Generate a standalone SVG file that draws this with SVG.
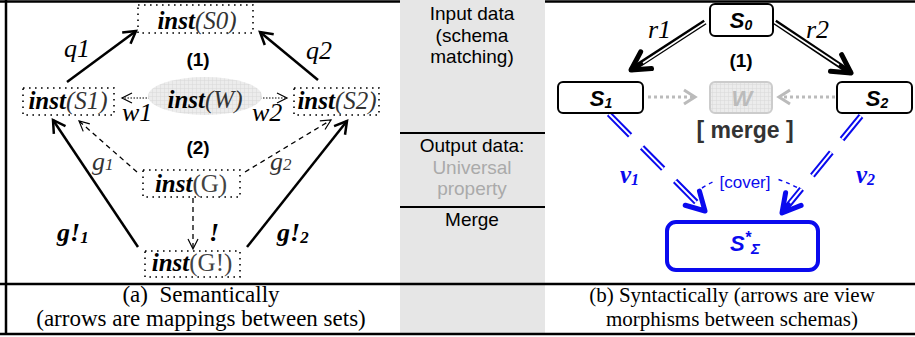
<svg xmlns="http://www.w3.org/2000/svg" width="915" height="337" viewBox="0 0 915 337">
<style>
.inst{font-family:"Liberation Serif","Times New Roman",serif;font-size:25px;font-style:italic;text-anchor:middle}
.lbl{font-family:"Liberation Serif","Times New Roman",serif;font-size:26px;font-style:italic}
.bi{font-weight:bold}
.dotbox{fill:none;stroke:#000;stroke-width:1.6;stroke-dasharray:1.6 4.4}
.cap{font-family:"Liberation Serif","Times New Roman",serif;font-size:21px;text-anchor:middle}
.capL{font-size:23px}
.mid{font-family:"Liberation Sans",Arial,sans-serif;font-size:19px;text-anchor:middle}
.num{font-family:"Liberation Sans",Arial,sans-serif;font-size:19px;font-weight:bold;text-anchor:middle}
.box{fill:#fff;stroke:#000;stroke-width:2}
.sch{font-family:"Liberation Sans",Arial,sans-serif;font-size:22px;font-weight:bold;font-style:italic;text-anchor:middle}
.frame{stroke:#000;stroke-width:2.5;fill:none}
.solid{stroke:#000;stroke-width:2.5;fill:none}
.dash{stroke:#000;stroke-width:1.3;fill:none;stroke-dasharray:5 4}
.dot{stroke:#000;stroke-width:1;fill:none;stroke-dasharray:1.5 1.5}
.gdot{stroke:#bbb;stroke-width:3;fill:none;stroke-dasharray:3 3}
.ghead{stroke:#bbb;stroke-width:3;fill:none}
.blue{fill:#0a0aee}
.bdash{stroke:#0a0aee;stroke-width:6;fill:none;stroke-dasharray:30 17}
.wdash{stroke:#fff;stroke-width:2;fill:none;stroke-dasharray:30 17}
</style>
<defs>
<marker id="openA" markerUnits="userSpaceOnUse" markerWidth="16" markerHeight="16" viewBox="0 0 16 16" refX="14" refY="8" orient="auto" overflow="visible">
<path d="M2,1 L14,8 L2,15" fill="none" stroke="#000" stroke-width="2.5"/>
</marker>
<marker id="openS" markerUnits="userSpaceOnUse" markerWidth="12" markerHeight="12" viewBox="0 0 12 12" refX="11" refY="6" orient="auto" overflow="visible">
<path d="M1,1 L11,6 L1,11" fill="none" stroke="#000" stroke-width="1.2"/>
</marker>
<marker id="thickV" markerUnits="userSpaceOnUse" markerWidth="24" markerHeight="24" viewBox="0 0 24 24" refX="20" refY="12" orient="auto" overflow="visible">
<path d="M2,2 L20,12 L2,22" fill="none" stroke="#000" stroke-width="5" stroke-linecap="round" stroke-linejoin="round"/>
</marker>
<marker id="blueV" markerUnits="userSpaceOnUse" markerWidth="24" markerHeight="24" viewBox="0 0 24 24" refX="20" refY="12" orient="auto" overflow="visible">
<path d="M2,2 L20,12 L2,22" fill="none" stroke="#0a0aee" stroke-width="5" stroke-linecap="round" stroke-linejoin="round"/>
</marker>
<pattern id="grid" width="4" height="4" patternUnits="userSpaceOnUse">
<rect width="4" height="4" fill="#ececec"/>
<path d="M0,0 H4 M0,0 V4" stroke="#d8d8d8" stroke-width="1"/>
</pattern>
</defs>
<rect width="915" height="337" fill="#fff"/>
<rect x="400" y="0" width="145" height="334" fill="#e6e6e6"/>
<g id="frame">
<path class="frame" d="M0,1.5 H400 M545,1.5 H915 M6,0 V335 M0,284 H915 M0,334 H915"/>
<path d="M400,133 H545 M400,207 H545" stroke="#000" stroke-width="2"/>
</g>
<g id="middle-column">
<text class="mid" x="472" y="20">Input data</text>
<text class="mid" x="472" y="42">(schema</text>
<text class="mid" x="472" y="63">matching)</text>
<text class="mid" x="472" y="152">Output data:</text>
<text class="mid" x="472" y="174" fill="#aaa">Universal</text>
<text class="mid" x="472" y="195" fill="#aaa">property</text>
<text class="mid" x="472" y="226">Merge</text>
</g>
<g id="connectors">
<line class="solid" x1="67" y1="82" x2="136" y2="31" marker-end="url(#openA)"/>
<line class="solid" x1="318" y1="80" x2="260" y2="32" marker-end="url(#openA)"/>
<line class="dot" x1="150" y1="98" x2="122" y2="98" marker-end="url(#openS)"/>
<line class="dot" x1="260" y1="98" x2="287" y2="98" marker-end="url(#openS)"/>
<line class="dash" x1="137" y1="172" x2="79" y2="121" marker-end="url(#openS)"/>
<line class="dash" x1="245" y1="172" x2="331" y2="120" marker-end="url(#openS)"/>
<line class="solid" x1="138" y1="247" x2="53" y2="120" marker-end="url(#openA)"/>
<line class="solid" x1="247" y1="247" x2="347" y2="121" marker-end="url(#openA)"/>
<line class="dash" x1="193" y1="198" x2="193" y2="249" marker-end="url(#openS)"/>
<line stroke="#000" stroke-width="5.5" x1="705" y1="22" x2="631" y2="70" marker-end="url(#thickV)"/>
<line stroke="#fff" stroke-width="1.6" x1="706" y1="22" x2="643" y2="63"/>
<line stroke="#000" stroke-width="5.5" x1="775" y1="22" x2="851" y2="73" marker-end="url(#thickV)"/>
<line stroke="#fff" stroke-width="1.6" x1="774" y1="22" x2="839" y2="65"/>
<line class="gdot" x1="648" y1="97" x2="693" y2="97"/>
<path class="ghead" d="M684,90 L695,97 L684,104"/>
<line class="gdot" x1="835" y1="97" x2="781" y2="97"/>
<path class="ghead" d="M790,90 L779,97 L790,104"/>
<line class="bdash" x1="609" y1="114" x2="705" y2="211" marker-end="url(#blueV)"/>
<line class="wdash" x1="609" y1="114" x2="697" y2="203"/>
<line class="bdash" x1="861" y1="116" x2="782" y2="213" marker-end="url(#blueV)"/>
<line class="wdash" x1="861" y1="116" x2="790" y2="203"/>
<path d="M702,188 Q745,160 798,188" fill="none" stroke="#0a0aee" stroke-width="1.5" stroke-dasharray="4 4"/>
</g>
<g id="left-labels">
<text class="num" x="198" y="66">(1)</text>
<text class="num" x="198" y="154">(2)</text>
<text class="lbl" x="64" y="57">q1</text>
<text class="lbl" x="306" y="59">q2</text>
<text class="lbl" x="122" y="121">w1</text>
<text class="lbl" x="252" y="121">w2</text>
<text class="lbl" x="92" y="170" fill="#333">g<tspan font-size="17">1</tspan></text>
<text class="lbl" x="270" y="170" fill="#333">g<tspan font-size="17">2</tspan></text>
<text class="lbl bi" x="57" y="241">g!<tspan font-size="17" dy="2">1</tspan></text>
<text class="lbl bi" x="277" y="241">g!<tspan font-size="17" dy="2">2</tspan></text>
<text class="lbl bi" x="209" y="241">!</text>
</g>
<g id="n-instS0">
<rect class="dotbox" x="138" y="5" width="115" height="28"/>
<text class="inst" x="197" y="29"><tspan class="bi">inst</tspan><tspan fill="#333">(S0)</tspan></text>
</g>
<g id="n-instW">
<ellipse cx="205" cy="96" rx="57" ry="19" fill="url(#grid)"/>
<text class="inst" x="205" y="108"><tspan class="bi">inst</tspan><tspan fill="#333">(W)</tspan></text>
</g>
<g id="n-instS1">
<rect class="dotbox" x="23" y="88" width="91" height="27"/>
<text class="inst" x="68" y="109"><tspan class="bi">inst</tspan><tspan fill="#333">(S1)</tspan></text>
</g>
<g id="n-instS2">
<rect class="dotbox" x="294" y="88" width="85" height="27"/>
<text class="inst" x="337" y="109"><tspan class="bi">inst</tspan><tspan fill="#333">(S2)</tspan></text>
</g>
<g id="n-instG">
<rect class="dotbox" x="143" y="170" width="97" height="27"/>
<text class="inst" x="191" y="192"><tspan class="bi">inst</tspan><tspan fill="#444" font-style="normal">(G)</tspan></text>
</g>
<g id="n-instG1">
<rect class="dotbox" x="145" y="251" width="95" height="26"/>
<text class="inst" x="192" y="271"><tspan class="bi">inst</tspan><tspan fill="#444" font-style="normal">(G!)</tspan></text>
</g>
<g id="right-labels">
<text class="lbl" x="648" y="38">r1</text>
<text class="lbl" x="806" y="38">r2</text>
<text class="num" x="741" y="67">(1)</text>
<text class="num" x="745" y="138" fill="#333" style="font-size:23px">[ merge ]</text>
<text class="lbl bi blue" x="620" y="183" style="font-size:25px">v<tspan font-size="16" dy="2">1</tspan></text>
<text class="lbl bi blue" x="856" y="183" style="font-size:25px">v<tspan font-size="16" dy="2">2</tspan></text>
<rect x="713" y="172" width="64" height="20" fill="#fff"/>
<text class="blue" x="745" y="188" font-family="Liberation Sans, Arial, sans-serif" font-size="17" text-anchor="middle">[cover]</text>
</g>
<g id="n-S0">
<rect class="box" x="710" y="4" width="63" height="32" rx="5"/>
<text class="sch" x="741" y="28">S<tspan font-size="14" dy="2">0</tspan></text>
</g>
<g id="n-S1">
<rect class="box" x="558" y="82" width="85" height="31" rx="5"/>
<text class="sch" x="601" y="106">S<tspan font-size="14" dy="2">1</tspan></text>
</g>
<g id="n-W">
<rect x="710" y="82" width="62" height="31" rx="5" fill="url(#grid)" stroke="#ccc" stroke-width="2"/>
<text class="sch" x="742" y="106" fill="#bbb">W</text>
</g>
<g id="n-S2">
<rect class="box" x="837" y="82" width="75" height="31" rx="5"/>
<text class="sch" x="877" y="106">S<tspan font-size="14" dy="2">2</tspan></text>
</g>
<g id="n-Sstar">
<rect x="667" y="222" width="151" height="48" rx="9" fill="#fff" stroke="#0a0aee" stroke-width="4"/>
<text class="sch blue" x="745" y="251">S<tspan font-size="16" dy="-8">*</tspan><tspan font-size="15" dy="11">Σ</tspan></text>
</g>
<g id="captions">
<text class="cap capL" x="201" y="302">(a)&#160; Semantically</text>
<text class="cap capL" x="201" y="326">(arrows are mappings between sets)</text>
<text class="cap" x="732" y="302">(b) Syntactically (arrows are view</text>
<text class="cap" x="732" y="326">morphisms between schemas)</text>
</g>
</svg>
